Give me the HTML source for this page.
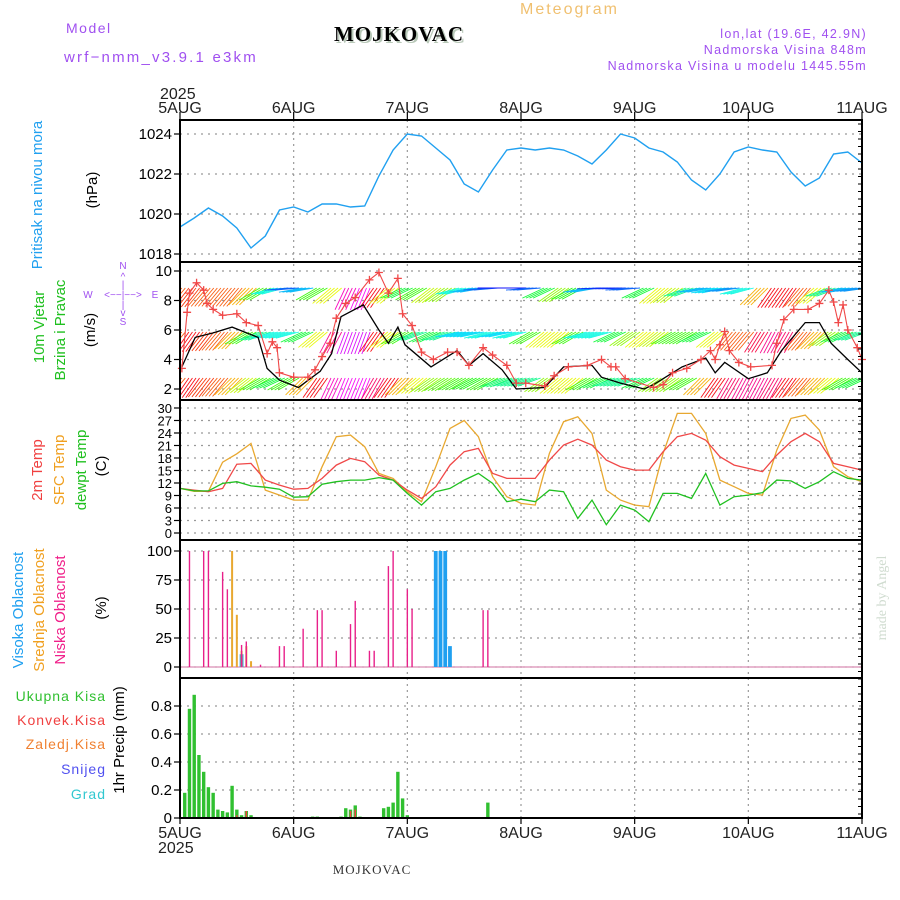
<!DOCTYPE html>
<html><head><meta charset="utf-8"><title>Meteogram MOJKOVAC</title>
<style>
html,body{margin:0;padding:0;background:#fff;}
svg{display:block;font-family:"Liberation Sans",sans-serif;}
</style></head>
<body>
<svg id="chart" width="900" height="900" viewBox="0 0 900 900" xmlns="http://www.w3.org/2000/svg">
<defs><clipPath id="windclip"><rect x="181" y="263" width="680" height="136"/></clipPath></defs>
<g>
<text x="66" y="33" font-size="14" fill="#a050f0" letter-spacing="1.5">Model</text>
<text x="64" y="62" font-size="15" fill="#a050f0" letter-spacing="2.2">wrf−nmm_v3.9.1 e3km</text>
<text x="401" y="43" font-size="21" font-weight="bold" font-family="Liberation Serif,serif" fill="#b8c8b8" text-anchor="middle" letter-spacing="1">MOJKOVAC</text>
<text x="399" y="41" font-size="21" font-weight="bold" font-family="Liberation Serif,serif" fill="#000" text-anchor="middle" letter-spacing="1">MOJKOVAC</text>
<text x="520" y="14" font-size="16" fill="#f0c070" letter-spacing="2">Meteogram</text>
<text x="867" y="38" font-size="12.5" fill="#a050f0" text-anchor="end" letter-spacing="1.3">lon,lat (19.6E, 42.9N)</text>
<text x="867" y="54" font-size="12.5" fill="#a050f0" text-anchor="end" letter-spacing="1.3">Nadmorska Visina 848m</text>
<text x="867" y="70" font-size="12.5" fill="#a050f0" text-anchor="end" letter-spacing="1.3">Nadmorska Visina u modelu 1445.55m</text>
<text x="160" y="99" font-size="16" fill="#222">2025</text>
<text x="158" y="853" font-size="16" fill="#222">2025</text>
<text x="372" y="874" font-size="13" font-family="Liberation Serif,serif" fill="#333" text-anchor="middle" letter-spacing="1">MOJKOVAC</text>
<text transform="translate(886,598) rotate(-90)" font-size="14" font-family="Liberation Serif,serif" fill="#d0dcd0" text-anchor="middle">made by Angel</text>
</g>
<g>
<text transform="translate(42,195) rotate(-90)" font-size="15" fill="#20a0f0" text-anchor="middle">Pritisak na nivou mora</text>
<text transform="translate(97,190) rotate(-90)" font-size="15" fill="#000" text-anchor="middle">(hPa)</text>
<text transform="translate(44,327) rotate(-90)" font-size="15" fill="#20c020" text-anchor="middle">10m Vjetar</text>
<text transform="translate(65,330) rotate(-90)" font-size="15" fill="#20c020" text-anchor="middle">Brzina i Pravac</text>
<text transform="translate(95,330) rotate(-90)" font-size="15" fill="#000" text-anchor="middle">(m/s)</text>
<g font-size="10" fill="#a050f0" text-anchor="middle">
<text x="123" y="269">N</text><text x="123" y="280">^</text><text x="123" y="288">|</text>
<text x="88" y="298">W</text><text x="123" y="298">&lt;−−|−−&gt;</text><text x="155" y="298">E</text>
<text x="123" y="308">|</text><text x="123" y="316">v</text><text x="123" y="325">S</text></g>
<text transform="translate(42,470) rotate(-90)" font-size="15" fill="#f04040" text-anchor="middle">2m Temp</text>
<text transform="translate(64,470) rotate(-90)" font-size="15" fill="#f0a020" text-anchor="middle">SFC Temp</text>
<text transform="translate(86,470) rotate(-90)" font-size="15" fill="#20c020" text-anchor="middle">dewpt Temp</text>
<text transform="translate(106,466) rotate(-90)" font-size="15" fill="#000" text-anchor="middle">(C)</text>
<text transform="translate(23,610) rotate(-90)" font-size="15" fill="#20a0f0" text-anchor="middle">Visoka Oblacnost</text>
<text transform="translate(44,610) rotate(-90)" font-size="15" fill="#f0a020" text-anchor="middle">Srednja Oblacnost</text>
<text transform="translate(65,610) rotate(-90)" font-size="15" fill="#f0208a" text-anchor="middle">Niska Oblacnost</text>
<text transform="translate(106,608) rotate(-90)" font-size="15" fill="#000" text-anchor="middle">(%)</text>
<g font-size="14" text-anchor="end" letter-spacing="1">
<text x="106" y="701" fill="#30c030">Ukupna  Kisa</text>
<text x="106" y="725" fill="#f04040">Konvek.Kisa</text>
<text x="106" y="749" fill="#f08030">Zaledj.Kisa</text>
<text x="106" y="774" fill="#5050f0">Snijeg</text>
<text x="106" y="799" fill="#30c8d0">Grad</text></g>
<text transform="translate(124,740) rotate(-90)" font-size="15" fill="#000" text-anchor="middle">1hr Precip (mm)</text>
</g>
<g id="plot"></g>
</svg>
<script>
// ---- data (3-hourly unless hours given) ----
const dayLabels = ["5AUG","6AUG","7AUG","8AUG","9AUG","10AUG","11AUG"];
const pressure = [1019.35,1019.8,1020.3,1019.9,1019.3,1018.3,1018.9,1020.2,1020.35,1020.1,1020.5,1020.5,1020.35,1020.4,1021.9,1023.2,1024.0,1023.9,1023.3,1022.7,1021.5,1021.1,1022.2,1023.2,1023.3,1023.2,1023.3,1023.2,1022.9,1022.5,1023.2,1024.0,1023.8,1023.3,1023.1,1022.6,1021.7,1021.2,1022.0,1023.1,1023.35,1023.2,1023.1,1022.1,1021.4,1021.8,1023.0,1023.1,1022.55];
const pressureTicks = [1018,1020,1022,1024];
const windHours = [0.4,3.2,7,11,16.5,18.4,21,25,29.6,32,34,38.7,42,44,46,47.5,53,58.5,61,64,68,71,77,81,87,89,93,98,100,106,111,113,115,120,124,127,132,135,137.5,141,144];
const windSpeed = [3.5,5.5,5.8,6.2,5.5,3.4,2.6,2.1,3.2,4.4,6.9,7.7,6.0,5.1,6.2,5.0,3.5,4.6,3.6,4.4,3.3,2.0,2.1,3.5,3.6,2.8,2.4,2.0,2.3,3.5,4.1,3.1,3.8,2.7,3.1,4.6,6.5,6.5,5.1,4.0,3.1];
const gustHours = [0.4,1.5,2,3.5,5,5.7,7,9,12,14,16.5,18.4,19.5,20.5,21,24,27,28.5,30,31.7,33,35,37,40,42,44,46,47,49,51,53.5,56.5,58.5,61,64,66,69,71,73,77,79,82,86,89,91,92,94,100,102,104,107,110,112,113,114,115,116,118,120.5,125,126,127.5,129.6,132.6,135,137,138,139,140,141,143,144];
const gustSpeed = [3.4,7.2,8.5,9.2,8.7,7.8,7.4,7.0,7.1,6.5,6.3,4.4,5.2,4.8,3.1,2.8,2.8,3.3,4.2,5.1,6.8,7.8,8.2,9.4,9.9,8.5,9.5,7.1,6.3,4.5,4.0,4.5,4.5,3.6,4.8,4.3,3.6,2.4,2.4,2.2,2.9,3.5,3.6,4.0,3.5,3.5,2.7,2.1,2.3,3.1,3.4,4.0,4.6,4.0,5.0,5.9,4.6,3.8,3.5,3.6,5.1,6.7,7.4,7.4,7.8,8.7,7.9,6.5,7.7,6.0,4.8,4.0];
// wind direction rows: arrow angle below horizontal (deg, pointing west-southwest), 3-hourly
const dirRowTop = [50,52,50,50,50,45,30,15,5,10,30,40,65,68,55,40,25,30,38,35,15,10,5,0,0,5,25,35,28,10,2,2,5,25,40,38,20,10,12,8,15,45,55,55,50,40,20,10,8];
const dirRowMid = [50,55,52,50,45,30,20,15,15,25,40,62,70,70,55,40,30,20,25,20,12,12,15,12,15,30,40,40,30,15,15,25,35,40,38,30,30,25,40,50,50,58,62,60,50,45,35,25,20];
const dirRowBot = [50,55,52,50,45,38,30,25,30,45,55,65,68,68,60,55,45,40,35,32,30,28,30,22,20,20,35,40,40,30,25,20,20,25,35,35,30,45,55,60,62,62,60,55,50,45,40,30,25];
const windTicks = [2,4,6,8,10];
const temp2m = [10.7,10.3,9.9,10.7,16.5,16.7,12.7,11.5,10.5,10.7,13.1,16.3,17.9,17.1,13.9,12.7,10.3,8.3,11.1,16.3,19.5,20.3,14.3,13.1,13.1,13.1,17.5,21.1,22.5,21.1,17.5,15.9,15.1,15.1,19.5,23.1,23.9,22.3,18.3,16.3,15.5,14.7,18.7,21.9,23.9,21.9,16.7,15.9,15.1];
const tempSfc = [10.7,10.0,10.0,17.0,19.0,21.5,10.3,9.1,7.9,7.9,15.9,23.1,23.5,20.7,14.3,13.1,9.9,7.5,15.9,25.1,27.0,23.1,13.5,8.7,7.1,6.7,19.1,26.7,27.9,23.9,10.3,7.9,6.7,6.3,19.1,28.7,28.7,23.9,12.7,11.1,9.5,9.1,19.9,27.5,28.3,24.7,15.9,13.5,12.3];
const dewpt = [10.7,10.1,10.1,11.9,12.3,11.3,11.0,10.5,8.6,8.7,11.7,12.3,12.7,12.7,13.3,12.7,9.5,6.7,9.9,10.7,12.7,14.3,11.9,7.5,8.1,7.5,10.3,9.9,3.5,7.9,2.0,6.7,5.5,2.7,9.5,9.5,8.3,14.3,6.7,8.7,9.1,9.7,12.7,12.5,10.7,12.3,14.7,13.1,12.7];
const tempTicks = [0,3,6,9,12,15,18,21,24,27,30];
const lowCloudHours = [2,5,6,9,10,13,14,17,21,22,26,29,30,33,36,37,40,41,44,45,48,49,64,65];
const lowCloud = [100,100,100,82,67,19,22,2,18,18,33,49,49,14,37,57,14,14,87,100,67,50,49,49];
const midCloudHours = [11,12,13,14,15];
const midCloud = [100,45,14,18,5];
const highCloudHours = [13,54,55,56,57];
const highCloud = [11,100,100,100,18];
const cloudTicks = [0,25,50,75,100];
const precipHours = [1,2,3,4,5,6,7,8,9,10,11,12,13,14,15,28,29,34,35,36,37,38,43,44,45,46,47,48,65];
const precipTotal = [0.18,0.78,0.88,0.45,0.33,0.22,0.18,0.06,0.05,0.04,0.23,0.06,0.02,0.05,0.02,0.01,0.01,0.01,0.07,0.06,0.09,0.01,0.07,0.08,0.11,0.33,0.14,0.02,0.11];
const convHours = [12,14,36,37];
const convPrecip = [0.02,0.05,0.05,0.06];
const precipTicks = [0,0.2,0.4,0.6,0.8];

// ---- scales ----
const X0=180, X1=862, HRS=144;
const xs = h => X0 + h*(X1-X0)/HRS;
const P = {
 pres:{top:120,bot:262,y:v=>134+(1024-v)*20},
 wind:{top:262,bot:400,y:v=>389-(v-2)*14.75},
 temp:{top:400,bot:540,y:v=>533-v*4.167},
 cloud:{top:540,bot:678,y:v=>667-v*1.16},
 prec:{top:678,bot:818,y:v=>818-v*140}
};
const NS="http://www.w3.org/2000/svg";
const plot=document.getElementById('plot');
function mk(tag,attrs,parent){const e=document.createElementNS(NS,tag);for(const k in attrs)e.setAttribute(k,attrs[k]);(parent||plot).appendChild(e);return e;}
function grp(name){const g=mk('g',{});


return g;}
function line(series,hours,sc,color,name,w){const pts=series.map((v,i)=>xs(hours?hours[i]:i*3).toFixed(1)+','+sc.y(v).toFixed(1)).join(' ');
const e=mk('polyline',{points:pts,fill:'none',stroke:color,'stroke-width':w||1.3});


return e;}

// grids
const gGrid=grp('grid-lines');
function hgrid(sc,ticks,labelFmt,fs,name){
 const g=grp(name);
 ticks.forEach(t=>{const y=sc.y(t);
  mk('line',{x1:X0,x2:X1,y1:y,y2:y,stroke:'#999','stroke-width':1.2,'stroke-dasharray':'2,5'},gGrid);
  mk('line',{x1:X0-6,x2:X0,y1:y,y2:y,stroke:'#000','stroke-width':1.2},g);
  const tx=mk('text',{x:X0-8,y:y+5,'font-size':fs,'text-anchor':'end',fill:'#000'},g);
  tx.textContent=labelFmt(t);
  
  
 });
}
for(let d=1;d<6;d++){const x=xs(d*24);mk('line',{x1:x,x2:x,y1:120,y2:818,stroke:'#999','stroke-width':1.2,'stroke-dasharray':'2,4'},gGrid);}
hgrid(P.pres,pressureTicks,t=>t,15,'pressure-axis');
hgrid(P.wind,windTicks,t=>t,15,'wind-axis');
hgrid(P.temp,tempTicks,t=>t,13,'temp-axis');
hgrid(P.cloud,cloudTicks,t=>t,15,'cloud-axis');
hgrid(P.prec,precipTicks,t=>t===0?'0':t.toFixed(1),15,'precip-axis');

// pressure
line(pressure,null,P.pres,'#20a0f0','pressure-line',1.4);

// wind barbs
const gBarb=grp('wind-direction-arrows');
gBarb.setAttribute('clip-path','url(#windclip)');
function hueFor(a){ let h=240-a*4.4; if(h<0)h+=360; return 'hsl('+h.toFixed(0)+',95%,52%)';}
[[dirRowTop,288],[dirRowMid,332],[dirRowBot,378]].forEach(([row,base])=>{
 row.forEach((a,i)=>{const x=xs(i*3), r=a*Math.PI/180, L=24;
  for(let k=0;k<4;k++){const xx=x+k*3.55-5.3;
   const e=mk('line',{x1:xx,y1:base,x2:xx-L*Math.cos(r),y2:base+Math.min(L*Math.sin(r),22),stroke:hueFor(a),'stroke-width':0.9},gBarb);
   
   
  }});
});
line(windSpeed,windHours,P.wind,'#000','wind-speed-line',1.3);
line(gustSpeed,gustHours,P.wind,'#f04848','wind-gust-line',1.1);
const gG=grp('wind-gust-markers');
gustHours.forEach((h,i)=>{const x=xs(h),y=P.wind.y(gustSpeed[i]);
 const e=mk('path',{d:`M${x-4},${y}H${x+4}M${x},${y-4}V${y+4}`,stroke:'#f04848','stroke-width':1.3},gG);
 
 
});

// temperature
line(tempSfc,null,P.temp,'#e8a830','sfc-temp-line',1.3);
line(temp2m,null,P.temp,'#f04848','temp-2m-line',1.3);
line(dewpt,null,P.temp,'#20c020','dewpoint-line',1.3);

// clouds
const gC=grp('cloud-bars');
mk('line',{x1:X0,x2:X1,y1:P.cloud.y(0),y2:P.cloud.y(0),stroke:'#e0a0c0','stroke-width':1.5},gC);
function bars(hours,vals,sc,color,w,name,g){hours.forEach((h,i)=>{const x=xs(h),y=sc.y(vals[i]),y0=sc.y(0);
 const e=mk('rect',{x:x-w/2,y:y,width:w,height:Math.max(0,y0-y),fill:color},g);
 
 
});}
bars(highCloudHours,highCloud,P.cloud,'#20a0f0',3.8,'high-cloud-bar',gC);
bars(midCloudHours,midCloud,P.cloud,'#e8a830',2,'mid-cloud-bar',gC);
bars(lowCloudHours,lowCloud,P.cloud,'#e8208a',1.4,'low-cloud-bar',gC);

// precipitation
const gP=grp('precip-bars');
bars(precipHours,precipTotal,P.prec,'#30c030',3.4,'total-precip-bar',gP);
bars(convHours,convPrecip,P.prec,'#f04040',1.5,'convective-precip-bar',gP);

// frames
const gF=grp('panel-frames');
Object.values(P).forEach(p=>{mk('rect',{x:X0,y:p.top,width:X1-X0,height:p.bot-p.top,fill:'none',stroke:'#000','stroke-width':2},gF);});
for(let y=124;y<818;y+=7.5)mk('line',{x1:X1-4,x2:X1,y1:y,y2:y,stroke:'#000','stroke-width':1},gF);
const gD=grp('x-axis-day-labels');
dayLabels.forEach((d,i)=>{const x=xs(i*24);
 mk('line',{x1:x,x2:x,y1:112,y2:120,stroke:'#000','stroke-width':1.2},gD);
 mk('line',{x1:x,x2:x,y1:818,y2:824,stroke:'#000','stroke-width':1.2},gD);
 [[113,'x-tick-label-top'],[838,'x-tick-label-bottom']].forEach(([y,n])=>{
  const t=mk('text',{x:x,y:y,'font-size':16,'text-anchor':'middle',fill:'#222'},gD);
  t.textContent=d;
  
  
 });
});
</script>
</body></html>
